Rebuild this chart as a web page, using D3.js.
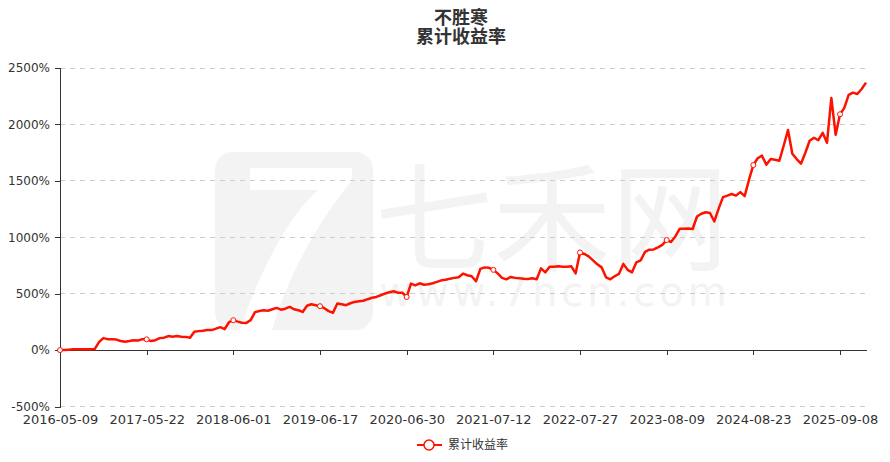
<!DOCTYPE html>
<html>
<head>
<meta charset="utf-8">
<script src="https://cdn.jsdelivr.net/npm/d3@7"></script>
<style>
  html, body { margin: 0; padding: 0; background: #fff; }
  svg { display: block; font-family: "DejaVu Sans", Verdana, sans-serif; }
</style>
</head>
<body>
<svg id="chart" width="890" height="462"></svg>
<script>
// ---- data ----
const titleLines = ["不胜寒", "累计收益率"];
const seriesName = "累计收益率";
const tickLabels = ["2016-05-09", "2017-05-22", "2018-06-01", "2019-06-17", "2020-06-30",
                    "2021-07-12", "2022-07-27", "2023-08-09", "2024-08-23", "2025-09-08"];
const tickEvery = 20;
const yTicks = [-500, 0, 500, 1000, 1500, 2000, 2500];
const cumReturn = [
  0, 0, 4, 8, 8, 8, 8, 8, 9, 71, 106, 97, 97, 93, 80, 73, 80, 88, 84, 97,
  95, 80, 88, 106, 110, 124, 119, 124, 119, 117, 109, 162, 168, 172, 177, 177, 190, 203, 186, 247,
  265, 252, 243, 241, 265, 336, 347, 353, 349, 362, 374, 358, 367, 383, 362, 353, 338, 393, 406, 398,
  389, 371, 345, 330, 413, 406, 398, 415, 427, 433, 437, 451, 464, 471, 486, 501, 512, 521, 508, 508,
  471, 589, 574, 592, 579, 583, 592, 605, 618, 623, 633, 640, 645, 678, 663, 654, 610, 720, 733, 729,
  711, 680, 640, 627, 648, 640, 636, 633, 631, 636, 627, 724, 689, 738, 738, 742, 738, 738, 742, 680,
  865, 852, 830, 795, 760, 733, 645, 627, 654, 676, 764, 711, 689, 777, 795, 870, 890, 892, 910, 932,
  975, 958, 1007, 1075, 1075, 1078, 1073, 1184, 1208, 1222, 1215, 1140, 1254, 1356, 1369, 1383, 1369, 1400, 1365, 1510,
  1640, 1700, 1723, 1643, 1693, 1687, 1678, 1811, 1950, 1740, 1693, 1652, 1749, 1855, 1882, 1860, 1926, 1837, 2235, 1908,
  2090, 2147, 2261, 2282, 2270, 2314, 2370
];

// ---- layout ----
const svg = d3.select("#chart");
const plot = { left: 60, right: 866, top: 68, bottom: 406.5 };
const lineColor = "#ff1100";

const x = d3.scaleLinear().domain([0, cumReturn.length - 1]).range([plot.left, plot.right]);
const y = d3.scaleLinear().domain([-500, 2500]).range([plot.bottom, plot.top]);

// ---- watermark ----
const wm = svg.append("g").attr("class", "watermark");
wm.append("rect").attr("x", 215).attr("y", 152).attr("width", 158).attr("height", 178)
  .attr("rx", 18).attr("fill", "#f3f3f3");
wm.append("path")
  .attr("d", "M250,168 L352,168 L352,180 C320,220 290,270 272,330 L240,330 C262,265 290,215 318,190 L250,190 Z")
  .attr("fill", "#ffffff");
const wmText = wm.append("text").attr("text-anchor", "middle").attr("fill", "#f3f3f3");
wmText.append("tspan").attr("x", 552).attr("y", 262)
  .attr("font-family", "'Noto Sans CJK SC', sans-serif").attr("font-size", 118).text("七禾网");
wmText.append("tspan").attr("x", 555).attr("y", 306)
  .attr("font-family", "'DejaVu Sans', sans-serif").attr("font-size", 40).attr("letter-spacing", 4)
  .text("www.7hcn.com");

// ---- grid ----
svg.append("g").selectAll("line").data(yTicks).join("line")
  .attr("x1", plot.left).attr("x2", plot.right)
  .attr("y1", d => y(d)).attr("y2", d => y(d))
  .attr("stroke", "#cccccc").attr("stroke-width", 1).attr("stroke-dasharray", "5,5")
  .attr("shape-rendering", "crispEdges");

// ---- y axis ----
const yAxis = svg.append("g").attr("transform", `translate(${plot.left},0)`)
  .call(d3.axisLeft(y).tickValues(yTicks).tickFormat(d => d + "%").tickSize(5).tickPadding(5));
yAxis.selectAll("path, line").attr("stroke", "#333").attr("shape-rendering", "crispEdges");
yAxis.selectAll("text").attr("fill", "#333").attr("font-size", 12).attr("font-family", "'DejaVu Sans', sans-serif");

// ---- x axis (line on zero) ----
const xTickIdx = tickLabels.map((_, i) => i * tickEvery);
const xAxisLine = svg.append("g").attr("transform", `translate(0,${y(0)})`)
  .call(d3.axisBottom(x).tickValues(xTickIdx).tickFormat("").tickSize(5).tickSizeOuter(0));
xAxisLine.selectAll("path, line").attr("stroke", "#333").attr("shape-rendering", "crispEdges");

const xAxisLab = svg.append("g").attr("transform", `translate(0,${plot.bottom})`)
  .call(d3.axisBottom(x).tickValues(xTickIdx).tickFormat(i => tickLabels[i / tickEvery]).tickSize(0).tickPadding(8));
xAxisLab.select(".domain").remove();
xAxisLab.selectAll("text").attr("fill", "#333").attr("font-size", 13).attr("font-family", "'DejaVu Sans', sans-serif");

// ---- line ----
const line = d3.line().x((d, i) => x(i)).y(d => y(d)).curve(d3.curveLinear);
svg.append("path").datum(cumReturn).attr("d", line)
  .attr("fill", "none").attr("stroke", lineColor).attr("stroke-width", 2.5)
  .attr("stroke-linejoin", "round");

svg.append("g").selectAll("circle").data(xTickIdx).join("circle")
  .attr("cx", i => x(i)).attr("cy", i => y(cumReturn[i])).attr("r", 2.5)
  .attr("fill", "#fff").attr("stroke", lineColor).attr("stroke-width", 1);

// ---- title ----
const cx = (plot.left + plot.right) / 2 - 2;
const title = svg.append("text").attr("text-anchor", "middle")
  .attr("font-family", "'Noto Sans CJK SC', sans-serif").attr("font-weight", "bold")
  .attr("font-size", 18).attr("fill", "#333");
title.append("tspan").attr("x", cx).attr("y", 24).text(titleLines[0]);
title.append("tspan").attr("x", cx).attr("y", 43).text(titleLines[1]);

// ---- legend ----
const lg = svg.append("g").attr("transform", "translate(417,445)");
lg.append("line").attr("x1", 0).attr("x2", 25).attr("y1", 0).attr("y2", 0)
  .attr("stroke", lineColor).attr("stroke-width", 2);
lg.append("circle").attr("cx", 12).attr("cy", 0).attr("r", 5)
  .attr("fill", "#fff").attr("stroke", lineColor).attr("stroke-width", 1.5);
lg.append("text").attr("x", 31).attr("y", 0).attr("dy", "0.35em")
  .attr("font-family", "'Noto Sans CJK SC', sans-serif").attr("font-size", 12)
  .attr("fill", "#333").text(seriesName);
</script>
</body>
</html>
